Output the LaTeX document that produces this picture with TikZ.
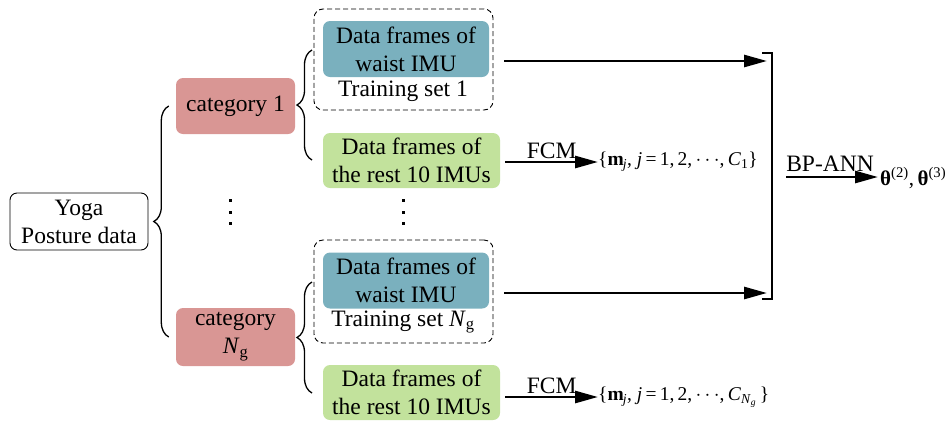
\documentclass[tikz,border=0pt]{standalone}
\usepackage{fontspec}
\setmainfont{Liberation Serif}
\usetikzlibrary{arrows.meta,decorations.pathreplacing}
\definecolor{catpink}{RGB}{217,150,148}
\definecolor{waistblue}{RGB}{122,176,190}
\definecolor{restgreen}{RGB}{194,226,156}
\tikzset{
  x=1pt,y=-1pt,
  big/.style={font=\fontsize{23.5}{28}\selectfont},
  small/.style={font=\fontsize{19.5}{22}\selectfont},
  rbox/.style={big,rounded corners=7pt,align=center,inner sep=0pt},
  catbox/.style={rbox,fill=catpink,minimum width=119pt},
  bluebox/.style={rbox,fill=waistblue,minimum width=166pt,minimum height=56pt},
  greenbox/.style={rbox,fill=restgreen,minimum width=177pt,minimum height=55pt},
  dashbox/.style={draw,dashed,line width=0.9pt,rounded corners=9pt,minimum width=179pt,minimum height=101pt,dash pattern=on 5pt off 3pt},
  arr/.style={line width=2.7pt,-{Triangle[length=23pt,width=12pt]}},
  bracestyle/.style={line width=1.3pt,decorate,decoration={brace,amplitude=15pt}},
  dotmark/.style={fill=black,minimum size=3pt,inner sep=0pt},
}
\begin{document}
\begin{tikzpicture}
\useasboundingbox (0,0) rectangle (947,421);
% left box
\node[rbox,draw,line width=0.9pt,minimum width=138pt,minimum height=57pt] (yoga) at (79,221.5) {Yoga\\Posture data};
% categories
\node[catbox,minimum height=56pt] (cat1) at (235.5,106) {category 1};
\node[catbox,minimum height=58pt] (catN) at (235.5,337) {category\\\textit{N}\textsubscript{g}};
\foreach \yy [count=\i] in {200,212,223}{
  \node[dotmark] (da\i) at (230,\yy) {};
  \node[dotmark] (db\i) at (403,\yy) {};
}
% dashed training sets
\node[dashbox] (ts1) at (403.5,59.5) {};
\node[dashbox,minimum height=103pt] (tsN) at (403.5,291.5) {};
\node[bluebox] (blue1) at (406,49) {Data frames of\\waist IMU};
\node[bluebox] (blueN) at (406,280.5) {Data frames of\\waist IMU};
\node[big] (lab1) at (403,91) {Training set 1};
\node[big] (labN) at (403,322) {Training set \textit{N}\textsubscript{g}};
\node[greenbox] (green1) at (411.5,160.5) {Data frames of\\the rest 10 IMUs};
\node[greenbox] (greenN) at (411.5,392.5) {Data frames of\\the rest 10 IMUs};
% braces
\draw[bracestyle] ([xshift=-7pt]catN.west) -- ([xshift=-7pt]cat1.west);
\draw[bracestyle] (312,160) -- (312,50);
\draw[bracestyle] (312,393) -- (312,282);
% FCM arrows and sets
\node[small,anchor=west,inner sep=0pt] (set1) at (598,162) {\{\textbf{m}\textsubscript{\kern-1pt\textit{j}}, \textit{j}\,=\,1,\,2,\,$\cdots$,\,\textit{C}\textsubscript{1}\}};
\node[small,anchor=west,inner sep=0pt] (setN) at (598,397) {\{\textbf{m}\textsubscript{\kern-1pt\textit{j}}, \textit{j}\,=\,1,\,2,\,$\cdots$,\,\textit{C}\textsubscript{\textit{N}\textsubscript{\textit{g}}}\,\}};
\draw[arr] ([xshift=5pt]green1.east |- set1.west) -- node[big,above,inner sep=2pt] {FCM} (set1.west);
\draw[arr] ([xshift=5pt]greenN.east |- setN.west) -- node[big,above,inner sep=2pt] {FCM} (setN.west);
% arrows to bracket
\coordinate (bt) at (772,53);
\coordinate (bb) at (772,299);
\draw[arr] ([xshift=11pt]ts1.east |- blue1.east) ++(0,12) -- (767,61);
\draw[arr] ([xshift=11pt]tsN.east |- blueN.east) ++(0,12.5) -- (767,293);
\draw[line width=1.3pt] ([xshift=-10pt]bt) -- (bt) -- (bb) -- ([xshift=-10pt]bb);
% BP-ANN
\node[anchor=west,inner sep=0pt,font=\fontsize{21}{24}\selectfont] (theta) at (880,178) {\textbf{θ}\textsuperscript{(2)},\,\textbf{θ}\textsuperscript{(3)}};
\coordinate (bpstart) at (786,177);
\draw[arr] (bpstart) -- node[big,above,inner sep=4pt,xshift=-2pt] {BP-ANN} ([xshift=-2pt]bpstart -| theta.west);
\end{tikzpicture}
\end{document}
